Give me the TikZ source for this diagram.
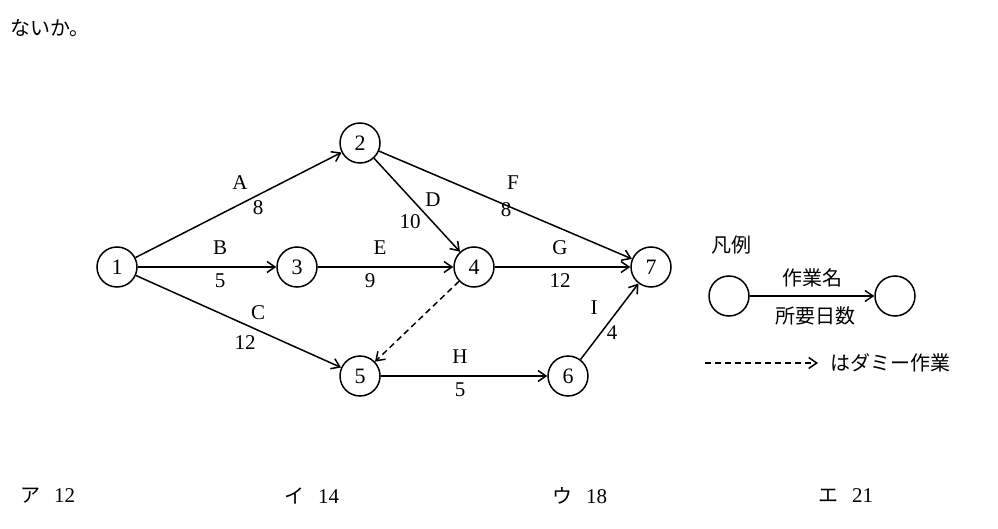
\documentclass[tikz,border=0pt]{standalone}
\usepackage{fontspec}
\setmainfont{Liberation Serif}
\newfontfamily\cjk{Noto Sans CJK JP}
\usetikzlibrary{arrows.meta}
\begin{document}
\begin{tikzpicture}[x=1pt,y=-1pt,
  st/.style={circle,draw,line width=1.5pt,minimum size=40pt,inner sep=0pt,font=\fontsize{22}{24}\selectfont},
  ar/.style={draw,line width=1.5pt,-{Straight Barb[length=8pt,width=11pt]}},
  dsh/.style={dash pattern=on 6pt off 4pt},
  lb/.style={font=\fontsize{21}{23}\selectfont,inner sep=0pt},
  jp/.style={font=\cjk\fontsize{20}{23}\selectfont,inner sep=0pt,anchor=west}]
\useasboundingbox (0,0) rectangle (998,529);
\clip (0,0) rectangle (998,529);
\node[jp] (t) at (10,28) {ないか。};
\node[st] (n1) at (117,267) {1};
\node[st] (n2) at (360,143) {2};
\node[st] (n3) at (297,267) {3};
\node[st] (n4) at (474,267) {4};
\node[st] (n5) at (360,376) {5};
\node[st] (n6) at (568,376) {6};
\node[st] (n7) at (651,267) {7};
\draw[ar] (n1) -- (n2);
\draw[ar] (n1) -- (n3);
\draw[ar] (n1) -- (n5);
\draw[ar] (n2) -- (n4);
\draw[ar] (n2) -- (n7);
\draw[ar] (n3) -- (n4);
\draw[ar] (n4) -- (n7);
\draw[ar,dsh] (n4) -- (n5);
\draw[ar] (n5) -- (n6);
\draw[ar] (n6) -- (n7);
\node[lb] (la) at (240,183) {A}; \node[lb] (va) at (258,208) {8};
\node[lb] (lbb) at (220,248) {B}; \node[lb] (vb) at (220,281) {5};
\node[lb] (lc) at (258,313) {C}; \node[lb] (vc) at (245,343) {12};
\node[lb] (ld) at (433,200) {D}; \node[lb] (vd) at (410,222) {10};
\node[lb] (le) at (380,248) {E}; \node[lb] (ve) at (370,281) {9};
\node[lb] (lf) at (513,183) {F}; \node[lb] (vf) at (506,210) {8};
\node[lb] (lg) at (560,248) {G}; \node[lb] (vg) at (560,281) {12};
\node[lb] (lh) at (460,357) {H}; \node[lb] (vh) at (460,390) {5};
\node[lb] (li) at (594,308) {I}; \node[lb] (vi) at (612,333) {4};
% legend
\node[jp] (hr) at (711,245) {凡例};
\node[st] (g1) at (729,296) {};
\node[st] (g2) at (895,296) {};
\draw[ar] (g1) -- (g2);
\node[jp,anchor=center] (sg) at (812,278) {作業名};
\node[jp,anchor=center] (sy) at (815,316) {所要日数};
\coordinate (d1) at (705,363);
\coordinate (d2) at (818,363);
\draw[ar,dsh] (d1) -- (d2);
\node[jp] (dm) at (830,363) {はダミー作業};
% answers
\node[jp] (a1) at (20,496) {ア\hspace{14pt}{\rmfamily\fontsize{21}{23}\selectfont 12}};
\node[jp] (a2) at (284,496) {イ\hspace{14pt}{\rmfamily\fontsize{21}{23}\selectfont 14}};
\node[jp] (a3) at (552,496) {ウ\hspace{14pt}{\rmfamily\fontsize{21}{23}\selectfont 18}};
\node[jp] (a4) at (818,496) {エ\hspace{14pt}{\rmfamily\fontsize{21}{23}\selectfont 21}};
\end{tikzpicture}
\end{document}
